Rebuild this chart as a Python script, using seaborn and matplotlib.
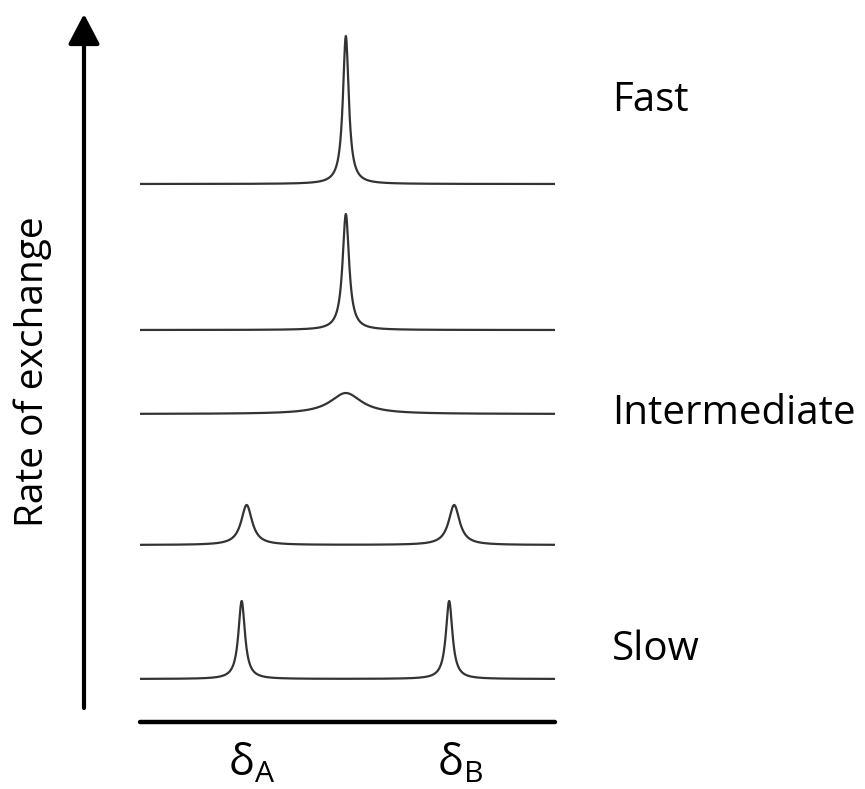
import numpy as np
import pandas as pd
import matplotlib
matplotlib.use("Agg")
import matplotlib.pyplot as plt
import seaborn as sns

# Exchange regimes, bottom (slow) to top (fast)
regimes = ["slow", "slow-mid", "intermediate", "fast-mid", "fast"]
baselines = [43, 177, 308, 392, 538]                      # vertical offset of each spectrum
peak_centres = [[0.245, 0.745], [0.257, 0.757], [0.496], [0.496], [0.496]]
peak_heights = [[78, 78], [40, 40], [21], [116], [148]]
peak_hwhm = [[0.0095, 0.0095], [0.016, 0.016], [0.046], [0.0095], [0.0085]]

side_labels = ["Fast", "Intermediate", "Slow"]
side_label_baseline_px = [111, 424, 660]                  # figure pixels from top
shift_labels = [r"$\mathregular{δ_A}$", r"$\mathregular{δ_B}$"]
shift_label_pos = [0.27, 0.77]

W, H, DPI = 865, 789, 100
sns.set_theme(style="white")
plt.rcParams["font.family"] = ["Open Sans", "DejaVu Sans"]
plt.rcParams["mathtext.fontset"] = "custom"
plt.rcParams["mathtext.rm"] = "Open Sans"

shift = np.linspace(0, 1, 2000)
rows = []
for name, base, cs, hs, ws in zip(regimes, baselines, peak_centres, peak_heights, peak_hwhm):
    y = np.full_like(shift, float(base))
    for c, h, w in zip(cs, hs, ws):
        y += h / (1 + ((shift - c) / w) ** 2)          # Lorentzian line
    rows.append(pd.DataFrame({"shift": shift, "intensity": y, "regime": name}))
spectra = pd.concat(rows, ignore_index=True)

fig = plt.figure(figsize=(W / DPI, H / DPI), dpi=DPI)
ax = fig.add_axes([140 / W, (H - 722) / H, 415 / W, 708 / H])
sns.lineplot(data=spectra, x="shift", y="intensity", units="regime", estimator=None,
             color="#333333", lw=1.6, ax=ax, legend=False)
ax.set_xlim(0, 1)
ax.set_ylim(0, 708)
ax.axis("off")

# chemical-shift axis
ax.axhline(0, color="black", lw=3.2, clip_on=False)
for lab, xpos in zip(shift_labels, shift_label_pos):
    ax.text(xpos, -20, lab, ha="center", va="top", fontsize=31, color="black")

# exchange-rate arrow
ax.annotate("", xy=(84, H - 14), xycoords="figure pixels",
            xytext=(84, H - 708), textcoords="figure pixels",
            arrowprops=dict(arrowstyle="-|>,head_length=0.8,head_width=0.42",
                            mutation_scale=23, lw=3, color="black",
                            shrinkA=0, shrinkB=0))
fig.text(33 / W, 1 - 372 / H, "Rate of exchange", rotation=90, ha="center",
         va="center", fontsize=28, color="black")

for lab, ypx in zip(side_labels, side_label_baseline_px):
    fig.text(612 / W, 1 - ypx / H, lab, ha="left", va="baseline",
             fontsize=29, color="black")

fig.savefig("out.png", dpi=DPI)
